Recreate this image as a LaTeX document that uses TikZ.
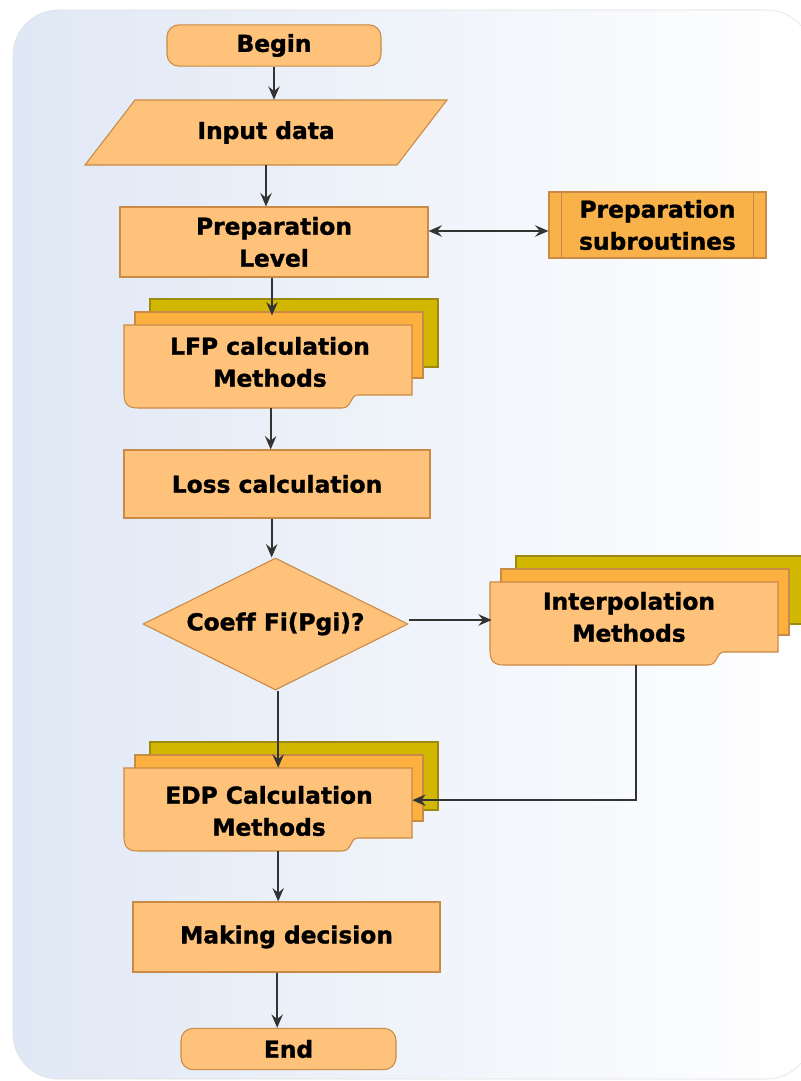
\documentclass[tikz,border=0pt]{standalone}
\usepackage{fontspec}
\setmainfont[Ligatures=NoCommon, BoldFeatures={FakeBold=1.3}]{DejaVu Sans}
\usetikzlibrary{shapes.geometric,arrows.meta}
\definecolor{frontfill}{HTML}{FFC27A}
\definecolor{frontline}{HTML}{C98A45}
\definecolor{midfill}{HTML}{FBB040}
\definecolor{midline}{HTML}{C98A45}
\definecolor{backfill}{HTML}{D2B700}
\definecolor{backline}{HTML}{9C8A10}
\definecolor{subfill}{HTML}{F9B24A}
\definecolor{bgblue}{HTML}{E0E8F5}
\definecolor{arrc}{HTML}{333333}
\begin{document}
\begin{tikzpicture}[x=0.75pt,y=-0.75pt,
  txt/.style={font=\bfseries\fontsize{17.5}{24}\selectfont, align=center, text=black},
  boxshape/.style={txt, draw=frontline, fill=frontfill, line width=0.8pt},
  procbox/.style={boxshape, rectangle, minimum width=#1},
  termbox/.style={boxshape, rectangle, rounded corners=9pt, minimum height=31pt},
  ghost/.style={txt, rectangle, draw=none, inner sep=0pt},
  arr/.style={draw=arrc, line width=1.5pt, -{Stealth[length=10pt,width=8.5pt,inset=3.5pt]}},
  arrtwo/.style={draw=arrc, line width=1.5pt, {Stealth[length=10pt,width=8.5pt,inset=3.5pt]}-{Stealth[length=10pt,width=8.5pt,inset=3.5pt]}},
  stk/.pic={
    \draw[draw=backline, fill=backfill, line width=0.8pt] (26,-26) rectangle (314,42);
    \draw[draw=midline, fill=midfill, line width=0.8pt] (11,-13) rectangle (299,53);
    \draw[draw=frontline, fill=frontfill, line width=0.8pt] (0,0) -- (288,0) -- (288,70) -- (234,70)
      .. controls (226,70) and (228,83) .. (218,83) -- (14,83) .. controls (4,83) and (0,79) .. (0,69) -- cycle;
  }]
\useasboundingbox (0,0) rectangle (800,1081);
% background panel
\shade[left color=bgblue, right color=white, draw=gray!25, rounded corners=34pt] (13,10) rectangle (812,1079);

% Begin
\node[termbox, minimum width=160.5pt] (begin) at (274,45.5) {Begin};

% Input data parallelogram
\path[draw=frontline, fill=frontfill, line width=0.8pt] (135,100) -- (447,100) -- (397,165) -- (85,165) -- cycle;
\node[ghost, minimum width=187pt, minimum height=48.75pt] (inp) at (266,132.5) {Input data};

% Preparation level
\node[procbox=231pt, minimum height=52.5pt] (prep) at (274,242) {Preparation\\Level};

% Preparation subroutines
\node[txt, rectangle, draw=frontline, fill=subfill, line width=0.8pt, minimum width=162.75pt, minimum height=49.5pt] (sub) at (657.5,225) {Preparation\\subroutines};
\draw[draw=frontline, line width=0.8pt] ([xshift=9.75pt]sub.north west) -- ([xshift=9.75pt]sub.south west);
\draw[draw=frontline, line width=0.8pt] ([xshift=-9.75pt]sub.north east) -- ([xshift=-9.75pt]sub.south east);

% LFP stack
\pic at (124,325) {stk};
\node[ghost, minimum width=216pt, minimum height=62.25pt] (lfp) at (268,366.5) {};
\node[ghost] (lfpt) at (270,362) {LFP calculation\\Methods};

% Loss calculation
\node[procbox=229.5pt, minimum height=51pt] (loss) at (277,484) {Loss calculation};

% Decision
\node[txt, diamond, aspect=2, draw=frontline, fill=frontfill, line width=0.8pt, inner sep=0pt, minimum width=198.75pt, minimum height=99pt] (dia) at (275.5,624) {Coeff Fi(Pgi)?};

% Interpolation stack
\pic at (490,582) {stk};
\node[ghost, minimum width=216pt, minimum height=62.25pt] (interp) at (636,623.5) {};
\node[ghost] (interpt) at (629,617) {Interpolation\\Methods};

% EDP stack
\pic at (124,768) {stk};
\node[ghost, minimum width=216pt, minimum height=62.25pt] (edp) at (268,809.5) {};
\node[ghost] (edpt) at (269,811) {EDP Calculation\\Methods};

% Making decision
\node[procbox=230.25pt, minimum height=52.5pt] (mk) at (286.5,937) {Making decision};

% End
\node[termbox, minimum width=161.25pt] (end) at (288.5,1049) {End};

% connectors
\draw[arr] (begin.south) -- (begin.south |- inp.north);
\draw[arr] (inp.south) -- (inp.south |- prep.north);
\draw[arrtwo] ([yshift=8.25pt]prep.east) -- ([yshift=8.25pt]prep.east -| sub.west);
\draw[arr] ([xshift=-1.5pt]prep.south) -- ([xshift=-1.5pt,yshift=7pt]prep.south |- lfp.north);
\draw[arr] ([xshift=2pt]lfp.south) -- ([xshift=2pt]lfp.south |- loss.north);
\draw[arr] ([xshift=-4pt]loss.south) -- ([xshift=-4pt]loss.south |- dia.north);
\draw[arr] ([yshift=3pt]dia.east) -- ([yshift=3pt]dia.east -| interp.west);
\draw[arr] ([xshift=2pt]dia.south) -- ([xshift=2pt]dia.south |- edp.north);
\draw[arr] (interp.south) |- ([yshift=7pt]edp.east);
\draw[arr] ([xshift=2pt]dia.south |- edp.south) -- ([xshift=2pt]dia.south |- mk.north);
\draw[arr] ([xshift=-7pt]mk.south) -- ([xshift=-7pt]mk.south |- end.north);
\end{tikzpicture}
\end{document}
